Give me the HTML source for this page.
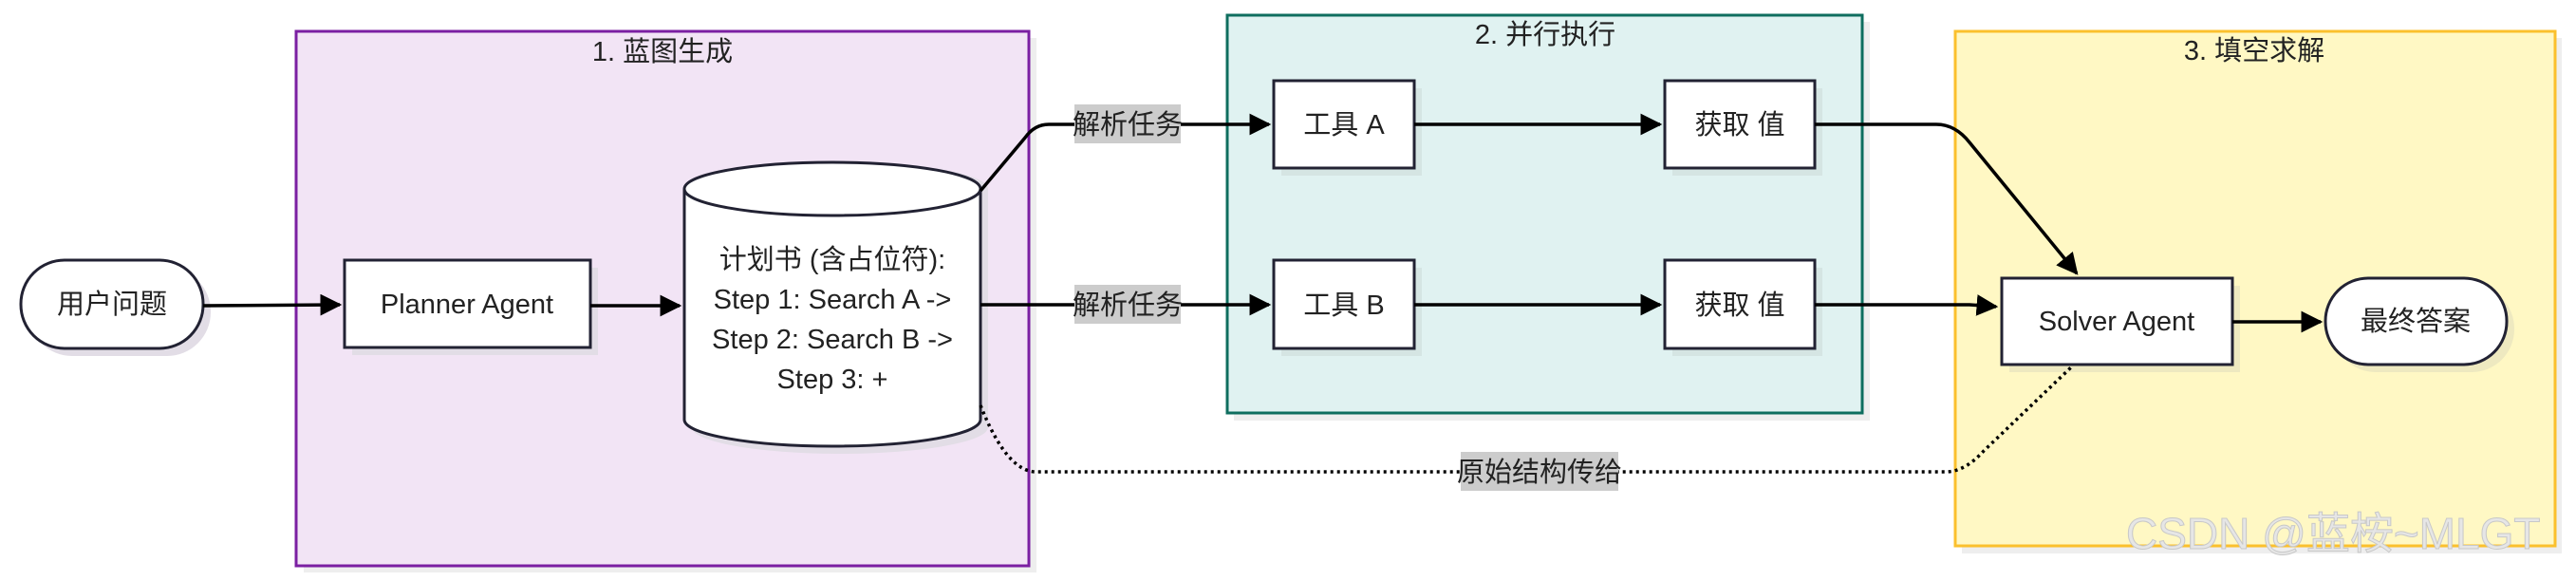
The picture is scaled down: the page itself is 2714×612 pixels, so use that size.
<!DOCTYPE html>
<html><head><meta charset="utf-8"><style>
html,body{margin:0;padding:0;background:#fff;}
svg{display:block;}
text{font-family:"Liberation Sans Narrow","Liberation Sans","Noto Sans CJK SC",sans-serif;font-size:29px;fill:#222;}
</style></head><body>
<svg width="2714" height="612" viewBox="0 0 2714 612" xmlns="http://www.w3.org/2000/svg">
<defs>
<marker id="ah" viewBox="0 0 10 10" refX="9" refY="5" markerWidth="6.5" markerHeight="6.5" orient="auto" markerUnits="strokeWidth">
<path d="M0,0 L10,5 L0,10 z" fill="#000"/></marker>
</defs>
<!-- group shadows -->
<rect x="320" y="40" width="772" height="563" fill="#eeeeee"/>
<rect x="1300" y="23" width="670" height="420" fill="#eeeeee"/>
<rect x="2067" y="40" width="632" height="543" fill="#eeeeee"/>
<!-- groups -->
<rect x="312" y="33" width="772" height="563" fill="#F2E4F5" stroke="#7B1FA2" stroke-width="3"/>
<rect x="1293" y="16" width="669" height="419" fill="#E0F2F1" stroke="#0F6E5F" stroke-width="3"/>
<rect x="2060" y="33" width="632" height="542" fill="#FFF8C4" stroke="#FBC02D" stroke-width="3"/>
<text x="698" y="64" text-anchor="middle">1. 蓝图生成</text>
<text x="1628" y="46" text-anchor="middle">2. 并行执行</text>
<text x="2375" y="63" text-anchor="middle">3. 填空求解</text>

<!-- node shadows -->
<g fill="#e2dde6">
<rect x="30" y="282" width="192" height="93" rx="46"/>
<rect x="371" y="282" width="259" height="92"/>
<path d="M729,199 A156,28 0 0 1 1041,199 L1041,450 A156,28 0 0 1 729,450 Z"/>
</g>
<g fill="#d5e5e3">
<rect x="1350" y="93" width="148" height="92"/><rect x="1350" y="282" width="148" height="93"/>
<rect x="1762" y="93" width="158" height="92"/><rect x="1762" y="282" width="158" height="93"/>
</g>
<g fill="#eee9c0">
<rect x="2117" y="301" width="243" height="91"/><rect x="2458" y="301" width="191" height="91" rx="45"/>
</g>

<!-- nodes -->
<g stroke="#222233" stroke-width="3" fill="#fff">
<rect x="22" y="274" width="192" height="93" rx="46"/>
<rect x="363" y="274" width="259" height="92"/>
<path d="M721,199 A156,28 0 0 1 1033,199 L1033,442 A156,28 0 0 1 721,442 Z"/>
<path d="M721,199 A156,28 0 0 0 1033,199" fill="none"/>
<rect x="1342" y="85" width="148" height="92"/><rect x="1342" y="274" width="148" height="93"/>
<rect x="1754" y="85" width="158" height="92"/><rect x="1754" y="274" width="158" height="93"/>
<rect x="2109" y="293" width="243" height="91"/><rect x="2450" y="293" width="191" height="91" rx="45"/>
</g>
<text x="118" y="330" text-anchor="middle">用户问题</text>
<text x="492" y="330" text-anchor="middle">Planner Agent</text>
<text x="877" y="283" text-anchor="middle">计划书 (含占位符):</text>
<text x="877" y="325" text-anchor="middle">Step 1: Search A -&gt;</text>
<text x="877" y="367" text-anchor="middle">Step 2: Search B -&gt;</text>
<text x="877" y="409" text-anchor="middle">Step 3: +</text>
<text x="1416" y="141" text-anchor="middle">工具 A</text>
<text x="1416" y="331" text-anchor="middle">工具 B</text>
<text x="1833" y="141" text-anchor="middle">获取 值</text>
<text x="1833" y="331" text-anchor="middle">获取 值</text>
<text x="2230" y="348" text-anchor="middle">Solver Agent</text>
<text x="2545" y="348" text-anchor="middle">最终答案</text>

<!-- edges -->
<g stroke="#000" stroke-width="3.5" fill="none">
<path d="M214,322 L358,321" marker-end="url(#ah)"/>
<path d="M622,322 L716,322" marker-end="url(#ah)"/>
<path d="M1033,201 L1080,145 Q1090,131 1105,131 L1337,131" marker-end="url(#ah)"/>
<path d="M1033,321 L1337,321" marker-end="url(#ah)"/>
<path d="M1490,131 L1749,131" marker-end="url(#ah)"/>
<path d="M1490,321 L1749,321" marker-end="url(#ah)"/>
<path d="M1912,131 L2040,131 Q2060,131 2075,150 L2188,288" marker-end="url(#ah)"/>
<path d="M1912,321 L2075,321 Q2090,322 2103,323" marker-end="url(#ah)"/>
<path d="M2352,339 L2445,339" marker-end="url(#ah)"/>
<path d="M1033,427 Q1060,495 1090,497 L2050,497 Q2070,497 2090,475 L2183,386" stroke-dasharray="3,4" stroke-width="3.5"/>
</g>
<!-- edge labels -->
<rect x="1132" y="110" width="112" height="41" fill="#cccccc"/>
<text x="1188" y="141" text-anchor="middle">解析任务</text>
<rect x="1132" y="300" width="112" height="41" fill="#cccccc"/>
<text x="1188" y="331" text-anchor="middle">解析任务</text>
<rect x="1539" y="476" width="166" height="41" fill="#cccccc"/>
<text x="1622" y="507" text-anchor="middle">原始结构传给</text>
<!-- watermark -->
<text x="2240" y="578" style="font-family:'Liberation Sans','Noto Sans CJK SC',sans-serif;font-size:46px;fill:#e6e6e6;stroke:#c8c8c8;stroke-width:1">CSDN @蓝桉~MLGT</text>
</svg>
</body></html>
